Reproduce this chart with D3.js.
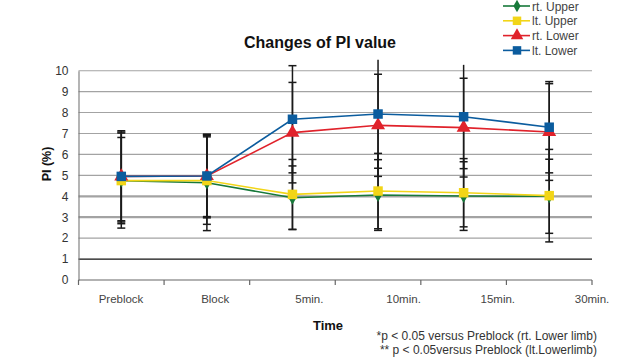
<!doctype html>
<html>
<head>
<meta charset="utf-8"/>
<title>Changes of PI value</title>
<script src="https://d3js.org/d3.v7.min.js"></script>
<style>
body{margin:0;background:#fff;}
text{font-family:"Liberation Sans",Arial,sans-serif;}
</style>
</head>
<body>
<script>
// categories and tick labels
var times = ["Preblock","Block","5min.","10min.","15min.","30min."];
var yTicks = [0,1,2,3,4,5,6,7,8,9,10];

// series values (PI %)
var rtUpper = [4.75, 4.65, 3.93, 4.06, 4.01, 4.00];
var ltUpper = [4.75, 4.75, 4.09, 4.25, 4.17, 4.03];
var rtLower = [4.95, 4.97, 7.04, 7.39, 7.28, 7.07];
var ltLower = [4.95, 4.97, 7.68, 7.93, 7.80, 7.30];

// standard deviations
var rtUpperSd = [2.06, 2.29, 1.52, 1.69, 1.64, 1.77];
var ltUpperSd = [2.27, 2.09, 1.67, 1.80, 1.63, 2.21];
var rtLowerSd = [2.18, 2.00, 2.40, 2.44, 2.36, 2.31];
var ltLowerSd = [2.12, 1.94, 2.56, 2.59, 2.48, 2.18];

var series = [
  {name:"rt. Upper", vals:rtUpper, sd:rtUpperSd, color:"#17793a", shape:"diamond"},
  {name:"lt. Upper", vals:ltUpper, sd:ltUpperSd, color:"#f2d518", shape:"square"},
  {name:"rt. Lower", vals:rtLower, sd:rtLowerSd, color:"#e0222b", shape:"triangle"},
  {name:"lt. Lower", vals:ltLower, sd:ltLowerSd, color:"#0b5c9e", shape:"square"}
];

var W = 632, H = 361;
var svg = d3.select("body").append("svg").attr("width", W).attr("height", H);

var pLeft = 78.5, pRight = 592, pTop = 70.7, pBottom = 280;

var x = d3.scaleBand().domain(times).range([pLeft, pRight]).paddingInner(0).paddingOuter(0);
var xLab = d3.scalePoint().domain(times).range([121, 592]);
var y = d3.scaleLinear().domain([0,10]).range([pBottom, pTop]);

// title
svg.append("text").attr("x", 320).attr("y", 48).attr("text-anchor","middle")
  .attr("font-size", 16).attr("font-weight","bold").attr("fill","#111")
  .text("Changes of PI value");

// gridlines
svg.append("g").selectAll("line").data(yTicks.filter(function(d){return d>0;})).enter().append("line")
  .attr("x1", pLeft).attr("x2", pRight)
  .attr("y1", function(d){return y(d);}).attr("y2", function(d){return y(d);})
  .attr("stroke", function(d){return d==1 ? "#111" : "#a3a3a3";})
  .attr("stroke-width", function(d){return (d==3||d==4) ? 2.2 : (d==1 ? 1.3 : 1.1);});

// y axis
var yAxis = svg.append("g").attr("transform","translate("+pLeft+",0)")
  .call(d3.axisLeft(y).tickValues(yTicks).tickSize(0).tickPadding(10));
yAxis.select(".domain").attr("stroke","#777").attr("stroke-width",1.1);
yAxis.selectAll("text").attr("font-size",12).attr("fill","#333")
  .attr("font-family","'Liberation Sans',Arial,sans-serif");

// x axis
var xAxis = svg.append("g").attr("transform","translate(0,"+pBottom+")");
xAxis.append("line").attr("x1",pLeft).attr("x2",pRight).attr("stroke","#666").attr("stroke-width",1.2);
var bounds = times.map(function(t){return x(t);}).concat([pRight]);
xAxis.selectAll("line.tk").data(bounds).enter().append("line").attr("class","tk")
  .attr("x1",function(d){return d;}).attr("x2",function(d){return d;})
  .attr("y1",0).attr("y2",5).attr("stroke","#666").attr("stroke-width",1.2);
xAxis.selectAll("text").data(times).enter().append("text")
  .attr("x", function(d){return xLab(d);}).attr("y", 23)
  .attr("text-anchor","middle").attr("font-size",11.5).attr("fill","#444")
  .text(function(d){return d;});

// axis titles
svg.append("text").attr("x",328).attr("y",330).attr("text-anchor","middle")
  .attr("font-size",13).attr("font-weight","bold").attr("fill","#111").text("Time");
svg.append("text").attr("transform","translate(51,164) rotate(-90)").attr("text-anchor","middle")
  .attr("font-size",12.5).attr("font-weight","bold").attr("fill","#111").text("PI (%)");

// footnotes
svg.append("text").attr("x",597).attr("y",340).attr("text-anchor","end")
  .attr("font-size",12).attr("fill","#333").text("*p < 0.05 versus Preblock (rt. Lower limb)");
svg.append("text").attr("x",597).attr("y",354).attr("text-anchor","end")
  .attr("font-size",12).attr("fill","#333").text("** p < 0.05versus Preblock (lt.Lowerlimb)");

function cx(i){ return x(times[i]) + x.bandwidth()/2; }

// lines
var line = d3.line().x(function(d,i){return cx(i);}).y(function(d){return y(d);});
series.forEach(function(s){
  svg.append("path").datum(s.vals).attr("d", line).attr("fill","none")
    .attr("stroke", s.color).attr("stroke-width", 1.6);
});

// error bars (caps beyond the top of the scale are not drawn)
var eb = svg.append("g").attr("stroke","#1a1a1a").attr("stroke-width",1.5);
series.forEach(function(s){
  s.vals.forEach(function(v,i){
    var hi = y(v + s.sd[i]), lo = y(v - s.sd[i]), xc = cx(i);
    eb.append("line").attr("x1",xc).attr("x2",xc).attr("y1",hi).attr("y2",lo);
    if (v + s.sd[i] <= 10.25)
      eb.append("line").attr("x1",xc-4).attr("x2",xc+4).attr("y1",hi).attr("y2",hi);
    eb.append("line").attr("x1",xc-4).attr("x2",xc+4).attr("y1",lo).attr("y2",lo);
  });
});

function marker(shape, size){
  var sym = shape=="diamond" ? d3.symbolDiamond : shape=="triangle" ? d3.symbolTriangle : d3.symbolSquare;
  return d3.symbol().type(sym).size(size)();
}
var sizes = {diamond:55, square:90, triangle:85};

series.forEach(function(s){
  svg.append("g").selectAll("path").data(s.vals).enter().append("path")
    .attr("transform", function(d,i){return "translate("+cx(i)+","+y(d)+")";})
    .attr("d", marker(s.shape, sizes[s.shape]))
    .attr("fill", s.color);
});

// legend
var lg = svg.append("g");
series.forEach(function(s,i){
  var ly = 6 + i*14.8;
  lg.append("line").attr("x1",503).attr("x2",530).attr("y1",ly).attr("y2",ly)
    .attr("stroke",s.color).attr("stroke-width",1.6);
  lg.append("path").attr("transform","translate(517,"+ly+")")
    .attr("d", marker(s.shape, sizes[s.shape]*0.8)).attr("fill",s.color);
  lg.append("text").attr("x",532).attr("y",ly+4.5).attr("font-size",12).attr("fill","#444").text(s.name);
});
</script>
</body>
</html>
